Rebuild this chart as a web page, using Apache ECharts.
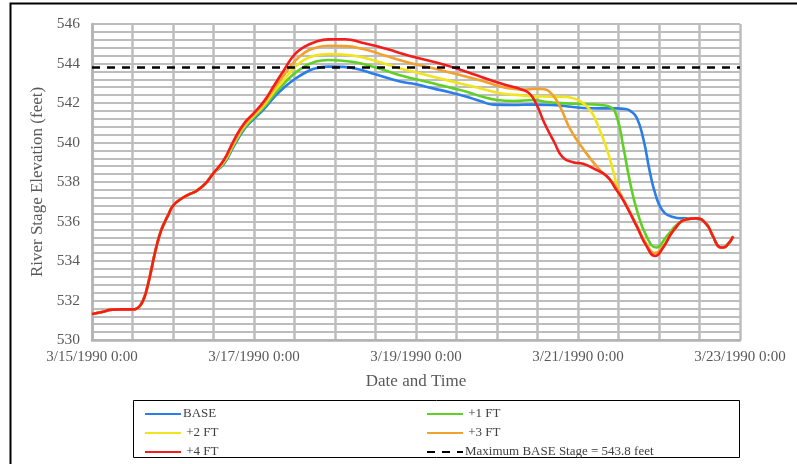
<!DOCTYPE html>
<html><head><meta charset="utf-8">
<script src="https://cdn.jsdelivr.net/npm/echarts@6/dist/echarts.min.js"></script>
<style>html,body{margin:0;padding:0;background:#fff}#c{width:797px;height:464px}</style>
</head><body><div id="c"></div>
<script>
// ---- data ----
const seriesNames = ['BASE', '+1 FT', '+2 FT', '+3 FT', '+4 FT'];
const maxBaseStage = 543.8;
const maxLineName = 'Maximum BASE Stage = 543.8 feet';
const xTickLabels = ['3/15/1990 0:00', '3/17/1990 0:00', '3/19/1990 0:00', '3/21/1990 0:00', '3/23/1990 0:00'];
const yTickLabels = [530, 532, 534, 536, 538, 540, 542, 544, 546];

// hours since 3/15/1990 0:00 (shared rising limb)
const prefixHours = [0,3,6,9,12,13.5,14.5,15.5,16.5,17.5,18.5,19.5,20.5,21.5,22.5,24,26,28.5,31,33.5,36];
const prefixValues = [531.32,531.42,531.54,531.55,531.55,531.62,531.8,532.15,532.75,533.5,534.3,535.0,535.55,535.95,536.3,536.8,537.1,537.35,537.55,537.9,538.45];

const baseHours = [39,42,45,48,51,54,57,60,63,66,70,74,78,84,91,96,101,106,111,115,119,125,130,136,140,145.5,150,155.5,158,159.5,161.4,163.4,165.3,166.9,168.9,171.9,174.8,177.8,180,182,184,186,187,188.2,190];
const baseValues = [538.9,539.8,540.65,541.2,541.7,542.3,542.8,543.2,543.52,543.75,543.84,543.83,543.75,543.45,543.1,542.95,542.74,542.55,542.32,542.1,541.92,541.9,541.92,541.9,541.85,541.75,541.73,541.73,541.7,541.6,541.25,540.15,538.5,537.4,536.6,536.24,536.16,536.16,536.12,535.88,535.25,534.7,534.68,534.8,535.25];

const ft1Hours = [39,42,45,48,51,54,57,60,63,66,70,77,84,91,96,101,106,111,116,120,125,130.8,135,140.6,145,150.5,153.5,155.5,157.4,159.4,161.4,164.3,167.2,170.2,173.2,176.2,179,182,184,186,187,188.2,190];
const ft1Values = [538.95,539.87,540.72,541.28,541.8,542.45,543.0,543.5,543.85,544.08,544.18,544.09,543.8,543.42,543.2,543.0,542.78,542.57,542.3,542.15,542.1,542.15,542.05,541.98,541.95,541.9,541.8,541.3,539.8,538.0,536.6,535.25,534.68,535.23,535.82,536.13,536.16,535.88,535.25,534.7,534.68,534.8,535.25];

const ft2Hours = [39,42,45,48,51,54,57,60,63,66,70,76,83,91,96,101,106,111,116,121,125.8,130,135.7,140.6,144,146.5,148.5,150.5,152.5,154.5,156,157.8,161.4,164.3,166.8,169.3,172.3,176,179,182,184,186,187,188.2,190];
const ft2Values = [539.0,539.94,540.8,541.36,541.9,542.6,543.2,543.8,544.2,544.4,544.48,544.43,544.18,543.76,543.55,543.33,543.12,542.91,542.7,542.49,542.41,542.35,542.32,542.3,542.15,541.85,541.4,540.6,539.7,538.5,537.6,537.0,535.8,534.85,534.4,534.75,535.55,536.1,536.16,535.88,535.25,534.7,534.68,534.8,535.25];

const ft3Hours = [39,42,45,48,51,54,57,60,63,66,70,75,80,85,91,96,101,106,111,116,121,124,128,131.5,134,136.5,138.7,141.6,144.6,147.6,150.5,153,155.5,157.5,161.4,164.3,166.8,169.3,172.3,176,179,182,184,186,187,188.2,190];
const ft3Values = [539.05,540.0,540.87,541.43,542.0,542.75,543.45,544.1,544.55,544.78,544.9,544.88,544.75,544.5,544.18,543.95,543.76,543.55,543.33,543.1,542.83,542.74,542.68,542.72,542.7,542.4,541.8,540.7,539.9,539.2,538.6,538.2,537.7,537.1,535.8,534.85,534.4,534.75,535.55,536.1,536.16,535.88,535.25,534.7,534.68,534.8,535.25];

const ft4Hours = [39,42,45,48,51,54,57,60,63,66,70,75,80,85,90,96,102,108,114,120,124,127,129.5,131.5,134,137,139.5,142.5,145.5,149,152.5,155,157.5,161.4,164.3,166.8,169.3,172.3,176,179,182,184,186,187,188.2,190];
const ft4Values = [539.1,540.1,540.95,541.5,542.1,542.9,543.7,544.45,544.85,545.08,545.22,545.23,545.05,544.85,544.6,544.3,544.05,543.75,543.4,543.05,542.85,542.7,542.5,542.0,541.0,540.0,539.25,539.0,538.92,538.65,538.3,537.7,537.05,535.75,534.75,534.25,534.7,535.55,536.1,536.16,535.88,535.25,534.7,534.68,534.8,535.25];

const seriesColors = ['#2b7de9', '#5fd024', '#f2e41c', '#f0a12e', '#f51c1c'];
const xStartHour = 0, xEndHour = 192;

// ---- build ----
function zip(h, v) { return h.map((x, i) => [x, v[i]]); }
const hoursList = [baseHours, ft1Hours, ft2Hours, ft3Hours, ft4Hours];
const valuesList = [baseValues, ft1Values, ft2Values, ft3Values, ft4Values];

const FONT = '"Liberation Serif","Times New Roman",serif';
const lineSeries = seriesNames.map((name, i) => ({
  name: name,
  type: 'line',
  data: zip(prefixHours.concat(hoursList[i]), prefixValues.concat(valuesList[i])),
  symbol: 'none',
  smooth: 0.5,
  lineStyle: { color: seriesColors[i], width: 2.6 },
  itemStyle: { color: seriesColors[i] },
  z: 3 + i
}));
lineSeries.push({
  name: maxLineName,
  type: 'line',
  data: [[xStartHour, maxBaseStage], [xEndHour, maxBaseStage]],
  symbol: 'none',
  lineStyle: { color: '#000', width: 2.6, type: [8, 7] },
  itemStyle: { color: '#000' },
  z: 10
});

const gridLine = { show: true, lineStyle: { color: '#bdbdbd', width: 2 } };
const legendText = { fontFamily: FONT, fontSize: 13, color: '#404040', lineHeight: 14, padding: [0, 0, 0, -3] };
const legendFormatter = n => (n === 'BASE' || n === maxLineName) ? n : ' ' + n;

const chart = echarts.init(document.getElementById('c'), null, { renderer: 'canvas' });
chart.setOption({
  backgroundColor: '#fff',
  animation: false,
  grid: { left: 92, right: 57, top: 24, bottom: 124, containLabel: false },
  xAxis: {
    type: 'value', min: xStartHour, max: xEndHour, interval: 48,
    name: 'Date and Time', nameLocation: 'middle', nameGap: 33,
    nameTextStyle: { fontFamily: FONT, fontSize: 17, color: '#595959' },
    axisLine: { show: true, lineStyle: { color: '#b3b3b3', width: 2.5 } },
    axisTick: { show: false },
    axisLabel: { fontFamily: FONT, fontSize: 15, color: '#595959', margin: 10,
      formatter: v => xTickLabels[Math.round(v / 48)] || '' },
    splitLine: { show: true, lineStyle: { color: '#bdbdbd', width: 2.5 } },
    minorTick: { show: false, splitNumber: 4 },
    minorSplitLine: { show: true, lineStyle: { color: '#bdbdbd', width: 2.5 } }
  },
  yAxis: {
    type: 'value', min: yTickLabels[0], max: yTickLabels[yTickLabels.length - 1], interval: 2,
    name: 'River Stage Elevation (feet)', nameLocation: 'middle', nameGap: 45,
    nameTextStyle: { fontFamily: FONT, fontSize: 17, color: '#595959' },
    axisLine: { show: true, lineStyle: { color: '#b3b3b3', width: 2.5 } },
    axisTick: { show: false },
    axisLabel: { fontFamily: FONT, fontSize: 15.5, color: '#595959', margin: 12 },
    splitLine: gridLine,
    minorTick: { show: false, splitNumber: 5 },
    minorSplitLine: gridLine
  },
  legend: [
    {
      data: [seriesNames[0], seriesNames[2], seriesNames[4]],
      orient: 'vertical', left: 139, top: 402,
      itemWidth: 36, itemHeight: 14, itemGap: 5,
      itemStyle: { opacity: 0 },
      formatter: legendFormatter,
      textStyle: legendText
    },
    {
      data: [seriesNames[1], seriesNames[3], maxLineName],
      orient: 'vertical', left: 421, top: 402,
      itemWidth: 36, itemHeight: 14, itemGap: 5,
      itemStyle: { opacity: 0 },
      formatter: legendFormatter,
      textStyle: legendText
    }
  ],
  graphic: [
    { type: 'rect', shape: { x: 10.5, y: 3.5, width: 820, height: 480 }, style: { fill: null, stroke: '#000', lineWidth: 2 }, silent: true },
    { type: 'rect', shape: { x: 133.5, y: 400.5, width: 606, height: 57 }, style: { fill: null, stroke: '#000', lineWidth: 1 }, silent: true }
  ],
  series: lineSeries
});
</script>
</body></html>
